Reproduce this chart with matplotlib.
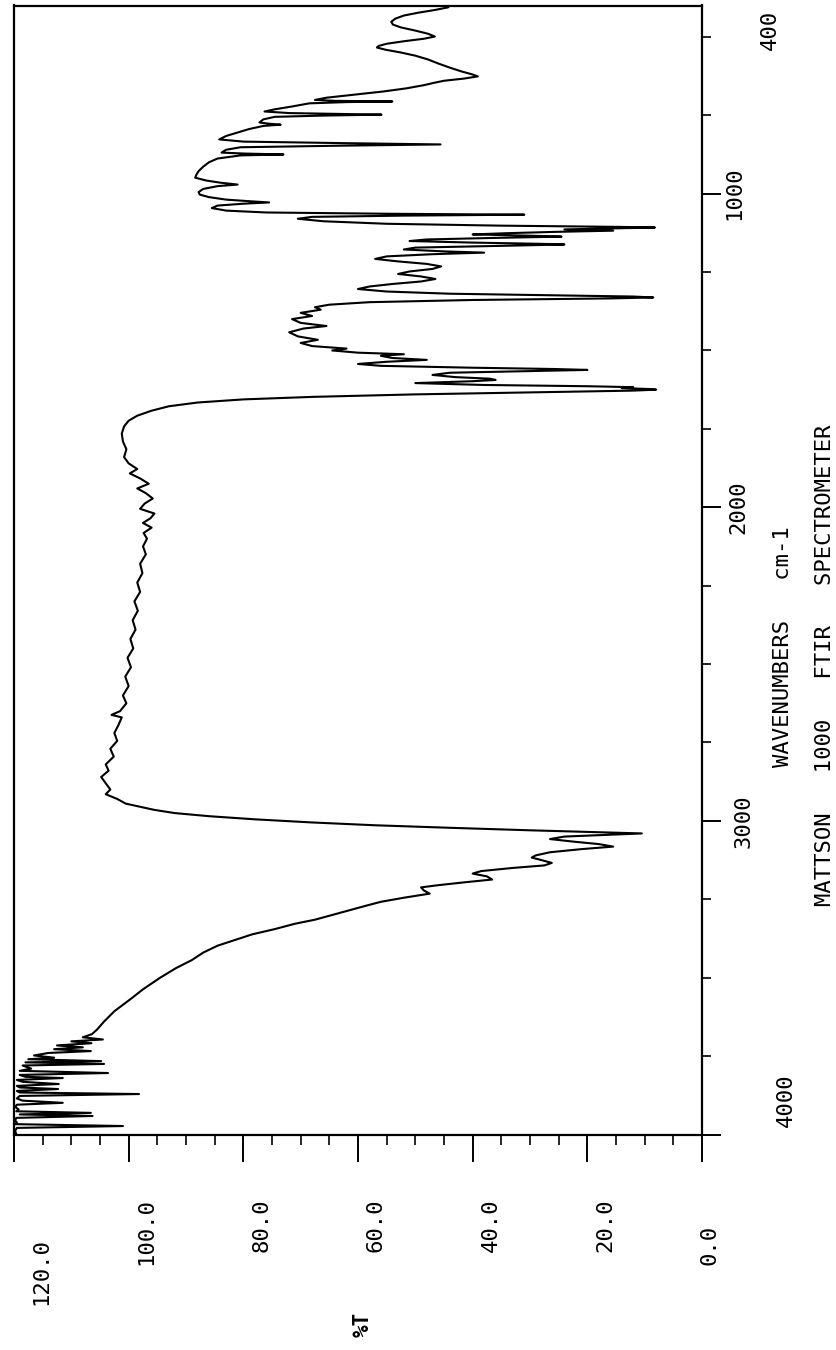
import matplotlib
matplotlib.use("Agg")
from matplotlib import pyplot as plt
from matplotlib.ticker import FixedLocator

W, H = 837, 1350

# spectrum: wavenumber (cm-1) and %T
wavenumber = [
    400, 406, 414, 423, 432, 442, 452, 461, 470, 480, 490, 499, 506, 514, 522, 529, 534, 541, 550, 560,
    572, 585, 598, 610, 619, 626, 633, 640, 646, 654, 664, 674, 684, 694, 701, 704, 706, 708, 712, 722,
    731, 738, 743, 746, 748, 751, 755, 763, 773, 777, 780, 784, 794, 805, 816, 827, 834, 839, 843, 847,
    852, 860, 869, 872, 875, 878, 888, 900, 914, 928, 940, 949, 958, 965, 971, 976, 985, 995, 1003, 1011,
    1019, 1024, 1028, 1032, 1038, 1046,
    1054, 1060, 1064, 1067, 1070, 1074, 1080, 1088, 1096, 1102, 1106, 1108, 1111, 1114, 1118, 1122, 1126, 1130,
    1134, 1137, 1141, 1146, 1151, 1156, 1160, 1162, 1166, 1172, 1178, 1184, 1188, 1193, 1200, 1208, 1216, 1224,
    1232, 1240, 1248, 1256, 1264, 1272, 1280, 1288, 1296, 1304, 1312, 1319, 1324, 1328, 1331, 1334, 1339, 1346,
    1354, 1362, 1370, 1380, 1390, 1400, 1412, 1422, 1430, 1442, 1455, 1466, 1476, 1486, 1494, 1500, 1507, 1512,
    1517, 1524, 1530, 1536, 1543, 1549, 1555, 1559, 1562, 1565, 1571, 1578, 1585, 1590, 1594, 1598, 1604, 1610,
    1614, 1617, 1620, 1623, 1625, 1628, 1633, 1640, 1648, 1656, 1666, 1678, 1692, 1708, 1724, 1742,
    1765, 1790, 1815, 1840, 1860, 1878, 1892, 1908, 1925, 1940, 1955, 1972, 1988, 2005, 2020, 2035, 2050, 2065,
    2082, 2100, 2125, 2150, 2180, 2210, 2240, 2270, 2300, 2330, 2360, 2390, 2420, 2450, 2480, 2510, 2540, 2570,
    2600, 2625, 2650, 2662, 2670, 2695, 2720, 2745, 2770, 2795, 2820, 2840, 2860, 2880, 2900, 2915, 2930, 2945,
    2955,
    2965, 2975, 2985, 2995, 3005, 3014, 3022, 3030, 3036, 3040, 3044, 3050, 3058, 3066, 3074, 3082, 3090, 3100,
    3110, 3117, 3125, 3134, 3142, 3150, 3160, 3168, 3177, 3187, 3196, 3205, 3212, 3222, 3232, 3245, 3258, 3270,
    3285, 3300, 3315, 3328, 3345, 3362, 3380, 3398, 3420, 3444, 3470, 3500, 3537, 3570, 3607, 3640, 3665, 3680,
    3690, 3697, 3703, 3709, 3716, 3722, 3728, 3734, 3740, 3748, 3755, 3760, 3766, 3770, 3775, 3780, 3790, 3797,
    3804, 3810, 3816, 3820, 3826, 3832, 3839, 3845, 3850, 3855, 3861, 3866, 3871, 3877, 3885, 3892, 3899, 3905,
    3912, 3920, 3926, 3931, 3936, 3941, 3947, 3955, 3962, 3967, 3973, 3979, 3988, 4000,
]
transmittance = [
    44.0, 44.3, 46.5, 49.5, 52.0, 53.5, 54.2, 53.9, 52.5, 50.0, 47.8, 46.6, 48.5, 52.0, 55.0, 56.4, 56.7, 55.2, 52.5, 50.0,
    47.8, 46.0, 44.0, 42.0, 40.2, 39.1, 41.5, 45.0, 46.6, 48.5, 51.5, 55.5, 60.5, 65.5, 67.5, 64.0, 54.0, 62.0, 68.5, 71.5,
    74.5, 76.3, 72.0, 62.0, 55.9, 66.0, 74.5, 76.5, 77.2, 75.5, 73.5, 76.5, 79.0, 81.0, 83.0, 84.2, 80.0, 62.0, 45.6, 63.0,
    80.5, 83.0, 83.8, 80.0, 73.0, 80.5, 84.5, 86.0, 87.0, 87.8, 88.2, 88.4, 86.5, 84.0, 81.0, 84.5, 87.0, 87.8, 87.6, 86.0,
    83.0, 79.0, 75.5, 80.0, 84.5, 85.5,
    83.0, 76.0, 55.0, 31.0, 52.0, 68.0, 70.5, 66.0, 55.0, 35.0, 14.0, 8.2, 16.0, 24.0, 15.5, 26.0, 34.0, 40.0,
    30.0, 24.5, 36.0, 48.0, 51.0, 40.0, 28.0, 24.0, 34.0, 50.0, 52.0, 45.0, 38.0, 47.0, 55.0, 57.0, 53.0, 48.0,
    45.5, 47.0, 51.0, 53.0, 49.0, 46.5, 49.0, 54.0, 58.0, 60.0, 55.0, 44.0, 26.0, 12.0, 8.5, 16.0, 40.0, 58.0,
    65.0, 67.5, 66.5, 70.0, 68.0, 71.5, 70.0, 65.5, 69.5, 72.0, 70.5, 67.0, 70.0, 68.0, 62.0, 64.5, 60.0, 52.0,
    56.0, 54.0, 48.0, 55.0, 60.0, 56.0, 40.0, 26.0, 20.0, 28.0, 44.0, 47.0, 43.0, 37.0, 36.0, 40.0, 50.0, 38.0,
    20.0, 12.0, 14.0, 9.0, 8.0, 12.0, 28.0, 50.0, 68.0, 80.0, 88.0, 93.0, 96.0, 98.5, 100.0, 100.8,
    101.2, 101.0, 100.4, 100.8, 100.0, 98.5, 99.8, 98.0, 96.5, 98.5, 97.0, 95.8, 97.2, 98.0, 95.5, 96.2, 97.5, 96.0,
    97.4, 96.8, 97.5, 97.0, 98.0, 97.6, 98.5, 98.0, 99.0, 98.4, 99.3, 98.8, 99.7, 99.2, 100.2, 99.6, 100.6, 100.0,
    101.0, 100.4, 101.5, 103.0, 101.2, 101.8, 102.5, 102.0, 103.2, 102.6, 104.0, 103.5, 104.8, 104.0, 103.2, 104.0, 102.0, 100.5,
    98.0,
    95.5, 92.0, 86.0, 78.0, 68.0, 57.0, 44.0, 30.0, 18.0, 10.5, 16.0, 24.0, 26.5, 22.5, 18.0, 15.5, 21.0, 26.5,
    29.0, 29.7, 28.0, 26.2, 27.5, 33.0, 38.5, 40.0, 37.5, 36.6, 41.5, 46.0, 49.0, 48.5, 47.5, 52.0, 56.0, 58.5,
    61.5, 64.5, 67.5, 71.0, 74.5, 78.5, 81.5, 84.5, 87.0, 89.0, 91.8, 94.5, 97.5, 99.8, 102.5, 104.3, 105.5, 106.4,
    108.0, 104.5, 110.0, 106.5, 112.5, 108.0, 113.0, 106.6, 114.0, 116.5, 113.0, 117.5, 104.8, 118.0, 104.3, 118.5, 117.0, 119.0,
    103.6, 119.0, 118.0, 111.5, 119.5, 118.5, 112.2, 119.5, 119.0, 112.3, 119.5, 119.0, 98.2, 119.0, 119.5, 118.5, 111.5, 119.5,
    119.8, 119.2, 119.6, 106.6, 119.0, 106.3, 119.6, 119.8, 119.5, 119.8, 101.0, 119.5, 119.8, 119.6,
]

pct_ticks = [0, 20, 40, 60, 80, 100, 120]
pct_minor = list(range(0, 121, 5))
pct_labels = ["0.0", "20.0", "40.0", "60.0", "80.0", "100.0", "120.0"]
wn_major = [1000, 2000, 3000, 4000]
wn_minor = [500, 750, 1250, 1500, 1750, 2250, 2500, 2750, 3250, 3500, 3750]
wn_labels = ["400", "1000", "2000", "3000", "4000"]
wn_label_vals = [400, 1000, 2000, 3000, 4000]

FONT = "DejaVu Sans Mono"

fig = plt.figure(figsize=(W / 100, H / 100), dpi=100)
fig.patch.set_facecolor("white")
ax = fig.add_axes([14 / W, 1 - 1134.5 / H, 688 / W, 1129 / H])

ax.plot(transmittance, wavenumber, color="black", lw=1.5)
ax.set_xlim(120, 0)
ax.set_ylim(4000, 400)

for s in ax.spines.values():
    s.set_linewidth(1.6)

ax.xaxis.set_major_locator(FixedLocator(pct_ticks))
ax.xaxis.set_minor_locator(FixedLocator(pct_minor))
ax.yaxis.set_major_locator(FixedLocator(wn_major))
ax.yaxis.set_minor_locator(FixedLocator(wn_minor))
ax.tick_params(axis="x", which="major", direction="out", length=19.5, width=1.4, labelbottom=False)
ax.tick_params(axis="x", which="minor", direction="out", length=7.2, width=1.2)
ax.tick_params(axis="y", which="both", left=False, right=True, labelleft=False, labelright=False)
ax.tick_params(axis="y", which="major", direction="out", length=13.5, width=1.4)
ax.tick_params(axis="y", which="minor", direction="out", length=6.5, width=1.2)

# %T tick labels, rotated, hanging below the axis (end labels pulled inward)
pct_dx = {0: 8, 120: 27}
pct_dy = {0: -90.5, 120: -103.5}
for v, lab in zip(pct_ticks, pct_labels):
    ax.annotate(lab, xy=(v, 0), xycoords=("data", "axes fraction"),
                xytext=(pct_dx.get(v, 18), pct_dy.get(v, -63.5)), textcoords="offset pixels",
                rotation=90, ha="center", va="top", fontsize=16, family=FONT)

# wavenumber tick labels on the right
wn_dx = [68, 32, 36, 42, 84]
wn_dy = [-24.5, 0, 0, 0, 34.5]
for v, lab, dx, dy in zip(wn_label_vals, wn_labels, wn_dx, wn_dy):
    ax.annotate(lab, xy=(1, v), xycoords=("axes fraction", "data"),
                xytext=(dx, dy), textcoords="offset pixels",
                rotation=90, ha="center", va="center", fontsize=16, family=FONT)

fig.text(783 / W, 1 - 647 / H, "WAVENUMBERS   cm-1", rotation=90, ha="center", va="center",
         fontsize=16, family=FONT)
fig.text(825 / W, 1 - 665 / H, "MATTSON   1000   FTIR   SPECTROMETER", rotation=90,
         ha="center", va="center", fontsize=16, family=FONT)
fig.text(363 / W, 1 - 1324 / H, "%T", rotation=90, ha="center", va="center",
         fontsize=15, family=FONT, fontweight="bold")

fig.savefig("out.png", dpi=100, facecolor="white")
